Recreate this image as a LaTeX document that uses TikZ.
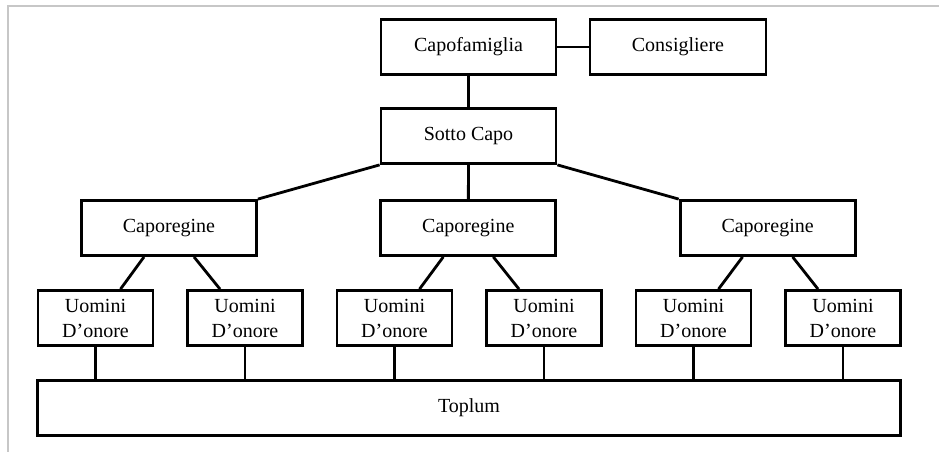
\documentclass[tikz,border=0pt]{standalone}
\usepackage{fontspec}
\setmainfont{Liberation Serif}

\begin{document}
\begin{tikzpicture}[x=1pt, y=-1pt, line width=2.8pt]
  \useasboundingbox (0,0) rectangle (939,452);
  \draw[black!22, line width=2pt] (8,452) -- (8,6) -- (939,6);

  {\tikzstyle{every node}=[rectangle, draw, align=center, inner sep=0pt,
      minimum height=55pt, font=\fontsize{20}{25}\selectfont]
    \node[minimum width=175pt] (capo) at (468.5, 47) {Capofamiglia};
    \node[minimum width=176pt] (cons) at (678, 47) {Consigliere};
    \node[minimum width=175pt] (sotto) at (468.5, 136) {Sotto Capo};

    \foreach \i in {0, ..., 2}
    {
      \node[minimum width=175pt] (cr\i) at (169+\i*299.3, 228) {Caporegine};
    }

    \foreach \j in {0, ..., 5}
    {
      \node[minimum width=115pt] (u\j) at (95.5+\j*149.5, 318) {Uomini\\D'onore};
    }

    \node[minimum width=863pt] (toplum) at (469, 408) {Toplum};
  }

  \draw
    (capo) -- (cons)
    (capo) -- (sotto);

  \draw
    (sotto.south west) -- (cr0.north east)
    (sotto) -- (cr1)
    (sotto.south east) -- (cr2.north west);

  \foreach \i in {0, ..., 2}
  {
    \pgfmathtruncatemacro{\a}{2*\i}
    \pgfmathtruncatemacro{\b}{2*\i+1}
    \draw
      ([xshift=-25pt]cr\i.south) -- ([xshift=25pt]u\a.north)
      ([xshift=25pt]cr\i.south) -- ([xshift=-25pt]u\b.north);
  }

  \foreach \j in {0, ..., 5}
  {
    \draw (u\j.south) -- (u\j.south |- toplum.north);
  }
\end{tikzpicture}
\end{document}
